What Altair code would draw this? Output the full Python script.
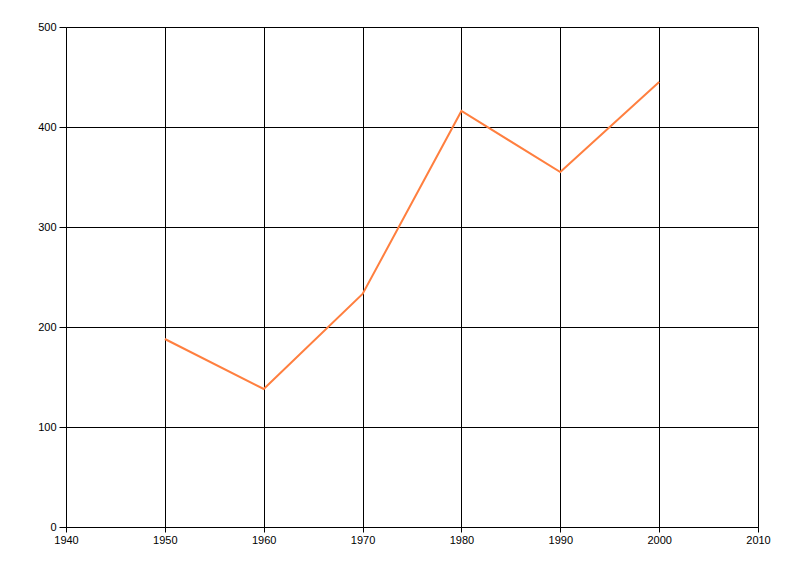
import altair as alt
import pandas as pd

years = [1950, 1960, 1970, 1980, 1990, 2000]
values = [188, 138, 233, 416, 355, 445]
x_ticks = [1940, 1950, 1960, 1970, 1980, 1990, 2000, 2010]
y_ticks = [0, 100, 200, 300, 400, 500]

df = pd.DataFrame({"year": years, "value": values})

chart = alt.Chart(df).mark_line(color="#ff7f3f", strokeWidth=2).encode(
    x=alt.X("year:Q", scale=alt.Scale(domain=[1940, 2010], nice=False),
            axis=alt.Axis(values=x_ticks, format="d", title=None, grid=True,
                          gridColor="black", gridOpacity=1, domainColor="black",
                          tickColor="black", tickSize=5, labelColor="black",
                          labelFontSize=11, labelFont="Liberation Sans", labelPadding=2,
                          labelFlush=False)),
    y=alt.Y("value:Q", scale=alt.Scale(domain=[0, 500], nice=False),
            axis=alt.Axis(values=y_ticks, title=None, grid=True,
                          gridColor="black", gridOpacity=1, domainColor="black",
                          tickColor="black", tickSize=7, labelColor="black",
                          labelFontSize=11, labelFont="Liberation Sans", labelPadding=3,
                          labelFlush=False)),
).properties(
    width=692, height=500,
    autosize=alt.AutoSizeParams(type="none"),
    padding={"left": 58, "top": 19, "right": 34, "bottom": 41},
).configure_view(stroke=None)

chart.save("out.html", embed_options={"renderer": "svg", "actions": False})
